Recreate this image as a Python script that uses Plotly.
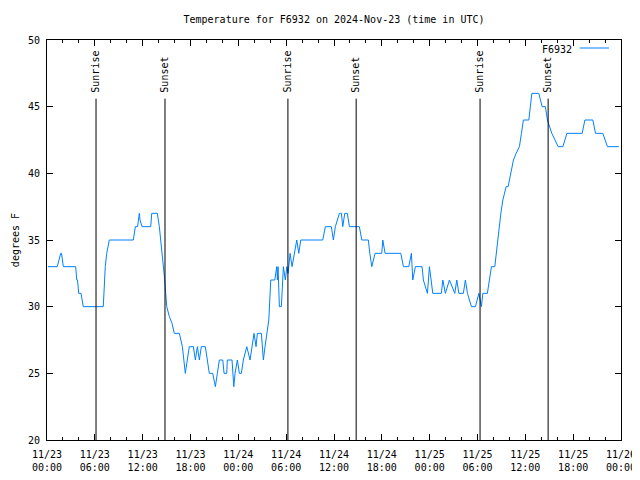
import datetime as dt
import plotly.graph_objects as go

# hours since 2024-11-23 00:00 UTC and temperature (F)
hours = [0.13, 1.29, 1.72, 1.82, 2.05, 3.60, 3.73, 3.83, 3.98, 4.27, 4.55, 7.06, 7.31, 7.49, 7.82,
         10.83, 11.08, 11.36, 11.58, 11.67, 11.92, 13.01, 13.14, 13.84, 14.09, 14.27, 14.43, 14.59,
         14.77, 14.89, 15.02, 15.35, 15.68, 15.97, 16.60, 16.98, 17.35, 17.60, 17.85, 18.36, 18.61,
         18.86, 19.11, 19.36, 19.86, 20.11, 20.36, 20.79, 21.12, 21.37, 21.62, 22.05, 22.21, 22.55,
         22.62, 23.21, 23.43, 23.59, 23.88, 24.13, 24.38, 24.63, 25.06, 25.47, 25.72, 25.97, 26.22,
         26.39, 26.89, 27.14, 27.35, 27.57, 27.82, 28.07, 28.57, 28.82, 28.90, 28.98, 29.15, 29.40,
         29.65, 29.90, 30.08, 30.24, 30.49, 30.74, 30.99, 31.33, 31.58, 31.83, 34.59, 34.92, 35.67,
         35.92, 36.17, 36.68, 36.93, 37.10, 37.35, 37.68, 37.93, 39.18, 39.49, 40.31, 40.49, 40.74,
         41.15, 41.99, 42.12, 42.41, 44.38, 44.71, 45.38, 45.71, 45.88, 46.21, 47.05, 47.21, 47.72,
         47.97, 48.39, 49.47, 49.65, 49.97, 50.48, 51.15, 51.40, 51.66, 52.23, 52.48, 52.74, 53.24,
         53.74, 54.17, 54.49, 54.67, 55.24, 55.50, 55.75, 56.17, 56.34, 56.50, 56.75, 56.93, 57.18,
         57.59, 57.84, 58.18, 58.51, 58.85, 59.26, 59.51, 59.76, 60.44, 60.60, 60.82, 61.69, 62.11,
         62.52, 62.77, 63.32, 64.12, 64.71, 65.21, 67.13, 67.47, 68.47, 68.80, 69.72, 70.30, 71.73]
temps = [33, 33, 34, 34, 33, 33, 32, 32, 31, 31, 30, 30, 33, 34, 35,
         35, 36, 36, 37, 36.5, 36, 36, 37, 37, 36, 35, 34, 33,
         32, 31, 30, 29.25, 28.75, 28, 28, 27, 25, 26, 27, 27, 26,
         27, 26, 27, 27, 26, 25, 25, 24, 25, 26, 26, 25, 25,
         26, 26, 24, 25, 26, 25, 25, 26, 27, 26, 27, 28, 27,
         28, 28, 26, 27, 28, 29, 32, 32, 33, 32, 33, 30, 30,
         33, 32, 33, 32.5, 34, 33, 34, 35, 34, 35, 35, 36, 36,
         35, 36, 37, 37, 36, 37, 37, 36, 36, 35, 35, 34, 33,
         34, 34, 35, 34, 34, 33, 33, 34, 32, 33, 33, 32, 31,
         33, 31, 31, 32, 31, 32, 31, 32, 31, 31, 32, 31, 30,
         30, 31, 30, 31, 31, 32, 33, 33, 34, 35, 36, 37, 38,
         39, 39, 40, 41, 41.5, 42, 43, 44, 44, 45, 46, 46, 45,
         45, 44, 43, 42, 42, 43, 43, 44, 44, 43, 43, 42, 42]

sun_events = ["Sunrise", "Sunset", "Sunrise", "Sunset", "Sunrise", "Sunset"]
sun_hours = [6.15, 14.80, 30.22, 38.78, 54.32, 62.86]

tick_hours = list(range(0, 73, 6))
tick_labels = ["11/23<br>00:00", "11/23<br>06:00", "11/23<br>12:00", "11/23<br>18:00",
               "11/24<br>00:00", "11/24<br>06:00", "11/24<br>12:00", "11/24<br>18:00",
               "11/25<br>00:00", "11/25<br>06:00", "11/25<br>12:00", "11/25<br>18:00",
               "11/26<br>00:00"]
y_ticks = [20, 25, 30, 35, 40, 45, 50]

base = dt.datetime(2024, 11, 23, 0, 0)
def T(h):
    return base + dt.timedelta(hours=h)

FONT = "DejaVu Sans Mono"
fig = go.Figure()
fig.add_trace(go.Scatter(x=[T(h) for h in hours], y=temps, mode="lines",
                         line=dict(color="#0080ff", width=1), name="F6932",
                         showlegend=False))

for name, h in zip(sun_events, sun_hours):
    fig.add_shape(type="line", x0=T(h), x1=T(h), y0=20, y1=45.6, xref="x", yref="y",
                  line=dict(color="black", width=1))
    fig.add_annotation(x=T(h), y=45.9, xref="x", yref="y", text=name, textangle=-90,
                       showarrow=False, xanchor="center", yanchor="bottom",
                       font=dict(family=FONT, size=10, color="black"))

# legend
fig.add_annotation(x=0.918, y=0.976, xref="paper", yref="paper", text="F6932",
                   showarrow=False, xanchor="right", yanchor="middle",
                   font=dict(family=FONT, size=10, color="black"))
fig.add_shape(type="line", x0=0.928, x1=0.979, y0=0.98, y1=0.98, xref="paper", yref="paper",
              line=dict(color="#0080ff", width=1))

# y axis label
fig.add_annotation(x=-0.0555, y=0.5, xref="paper", yref="paper", text="degrees F",
                   textangle=-90, showarrow=False, xanchor="center", yanchor="middle",
                   font=dict(family=FONT, size=10, color="black"))

# the page body has an 8px margin, so the figure is sized/offset to land the plot
# area at the same screen position as the reference
fig.update_layout(
    width=632, height=464,
    margin=dict(l=39, r=19, t=32, b=32),
    paper_bgcolor="white", plot_bgcolor="white",
    title=dict(text="Temperature for F6932 on 2024-Nov-23 (time in UTC)", x=0.5,
               xanchor="center", xref="paper", y=1 - 11 / 464, yanchor="middle",
               font=dict(family=FONT, size=10, color="black")),
    font=dict(family=FONT, size=10, color="black"),
    xaxis=dict(range=[T(0), T(72)], tickvals=[T(h) for h in tick_hours], ticktext=tick_labels,
               ticks="inside", ticklen=6, tickcolor="black", showgrid=False, zeroline=False,
               showline=True, linecolor="black", linewidth=1, mirror="ticks",
               automargin=False, ticklabelstandoff=5,
               minor=dict(tick0=T(0), dtick=2 * 3600 * 1000, ticks="inside", ticklen=3,
                          tickcolor="black", showgrid=False)),
    yaxis=dict(range=[20, 50], tickvals=y_ticks, ticks="inside", ticklen=6, tickcolor="black",
               showgrid=False, zeroline=False, showline=True, linecolor="black", linewidth=1,
               mirror="ticks", automargin=False, ticklabelstandoff=4),
)
fig.write_html("out.html")
